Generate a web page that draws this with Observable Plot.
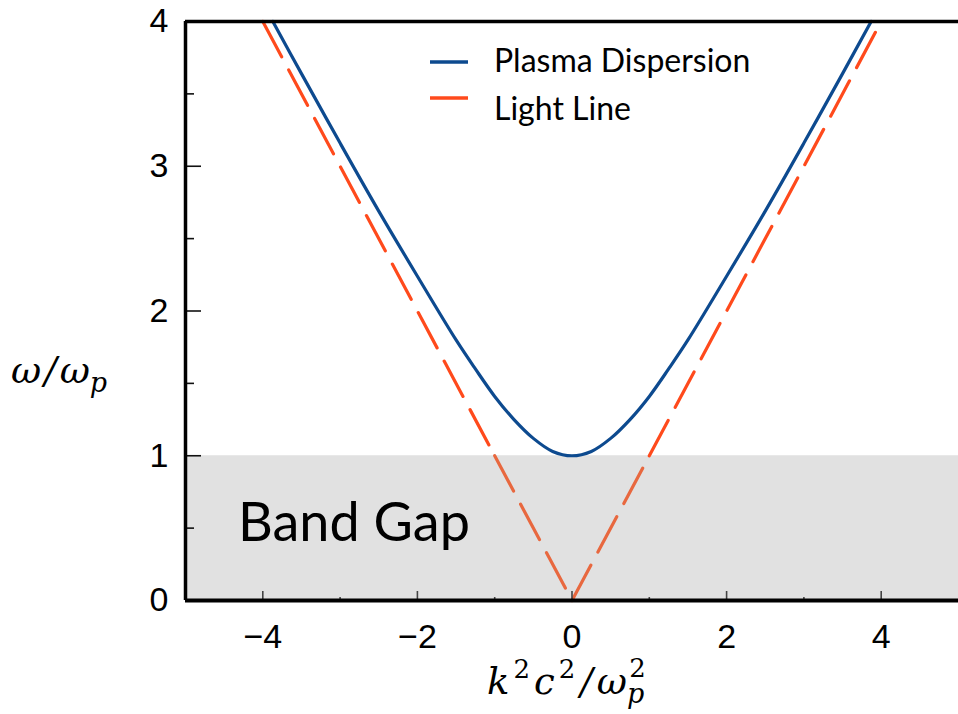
<!DOCTYPE html>
<html><head><meta charset="utf-8">
<script src="https://cdn.jsdelivr.net/npm/d3@7"></script>
<script src="https://cdn.jsdelivr.net/npm/@observablehq/plot@0.6"></script>
<style>body{margin:0;background:#fff} svg{display:block}</style>
</head><body><div id="chart"></div>
<script>
// ---- data ----
const kPlasma = [-3.87,-3.5,-3.0,-2.5,-2.0,-1.5,-1.25,-1.0,-0.75,-0.5,-0.25,0,0.25,0.5,0.75,1.0,1.25,1.5,2.0,2.5,3.0,3.5,3.87];
const wPlasma = [4.0,3.64,3.16,2.69,2.24,1.80,1.60,1.41,1.25,1.12,1.03,1.0,1.03,1.12,1.25,1.41,1.60,1.80,2.24,2.69,3.16,3.64,4.0];
const kLight = [-4,-1,0,1,4];
const wLight = [4,1,0,1,4];
const bandGap = [0,1];           // ω/ωp range of the band gap
const xDomain = [-5,5];
const yDomain = [0,4];
const xTicks = [-4,-2,0,2,4];
const xMinor = [-3,-1,1,3];
const yTicks = [0,1,2,3,4];
const yMinor = [0.5,1.5,2.5,3.5];
const seriesNames = ["Plasma Dispersion","Light Line"];

const BLUE = "#0d4a8f", ORANGE = "#ff4a1c", ORANGE_GAP = "#e8683f", GREY = "#e1e1e1";
const W = 958, H = 714, mL = 185, mR = 0, mT = 21, mB = 114;
const fw = W - mL - mR, fh = H - mT - mB;

const plasma = kPlasma.map((k,i)=>({k, w:wPlasma[i]}));
// light line split into consecutive segments, flagged inside band gap
const lightSegs = [];
for (let i=0;i<kLight.length-1;i++){
  const gap = wLight[i] <= bandGap[1] && wLight[i+1] <= bandGap[1];
  lightSegs.push({k:kLight[i], w:wLight[i], seg:i, gap});
  lightSegs.push({k:kLight[i+1], w:wLight[i+1], seg:i, gap});
}
const dash = "40,15";

const plot = Plot.plot({
  width: W, height: H,
  marginLeft: mL, marginRight: mR, marginTop: mT, marginBottom: mB,
  x: {domain: xDomain},
  y: {domain: yDomain},
  style: {background: "#fff", overflow: "visible"},
  marks: [
    Plot.rect([bandGap], {x1: xDomain[0], x2: xDomain[1], y1: d=>d[0], y2: d=>d[1], fill: GREY}),
    Plot.line(lightSegs.filter(d=>!d.gap), {x:"k", y:"w", z:"seg", stroke: ORANGE, strokeWidth: 3.2, strokeDasharray: dash}),
    Plot.line(lightSegs.filter(d=>d.gap), {x:"k", y:"w", z:"seg", stroke: ORANGE_GAP, strokeWidth: 3.2, strokeDasharray: dash}),
    Plot.line(plasma, {x:"k", y:"w", stroke: BLUE, strokeWidth: 3.2, curve: "catmull-rom"}),
    // inward ticks
    Plot.tickX(xTicks, {insetTop: fh - 9, stroke: "#444", strokeWidth: 1.6}),
    Plot.tickX(xMinor, {insetTop: fh - 3, stroke: "#444", strokeWidth: 1.6}),
    Plot.tickY(yTicks, {insetRight: fw - 16, stroke: "#111", strokeWidth: 1.6}),
    Plot.tickY(yMinor, {insetRight: fw - 9, stroke: "#111", strokeWidth: 1.6}),
    // frame
    Plot.ruleY([yDomain[0]], {stroke: "#000", strokeWidth: 4}),
    Plot.ruleY([yDomain[1]], {stroke: "#000", strokeWidth: 3.5}),
    Plot.ruleX([xDomain[0]], {stroke: "#000", strokeWidth: 3.5}),
    Plot.axisX(xTicks, {tickSize: 0, tickPadding: 23, fontSize: 34, fontFamily: "Liberation Sans", fill: "#000", label: null, tickFormat: d3.format("d")}),
    Plot.axisY(yTicks, {tickSize: 0, tickPadding: 17, fontSize: 34, fontFamily: "Liberation Sans", fill: "#000", label: null, tickFormat: d3.format("d")})
  ]
});
document.getElementById("chart").appendChild(plot);

const svg = d3.select(plot);
// Band Gap label
svg.append("text").attr("x", 238).attr("y", 541).attr("text-anchor", "start")
  .attr("font-family", "Lato").attr("font-size", 54).attr("fill", "#000")
  .text("Band Gap");

// legend
const leg = svg.append("g").attr("font-family", "Lato").attr("font-size", 32).attr("fill", "#000").attr("text-anchor", "start");
[[BLUE, seriesNames[0], 62, 72],[ORANGE, seriesNames[1], 98, 120]].forEach(([c,t,y,ty])=>{
  leg.append("line").attr("x1",430).attr("x2",468).attr("y1",y).attr("y2",y)
    .attr("stroke", c).attr("stroke-width", 3.5);
  leg.append("text").attr("x",494).attr("y",ty).text(t);
});

// y axis label  ω/ωp
const yl = svg.append("text").attr("x", 11).attr("y", 383).attr("text-anchor", "start")
  .attr("font-family", "DejaVu Serif").attr("font-style","italic").attr("font-size", 37).attr("fill","#000");
yl.append("tspan").text("ω");
yl.append("tspan").attr("dx", 3).text("/");
yl.append("tspan").attr("dx", 3).text("ω");
yl.append("tspan").attr("font-size", 27).attr("dy", 9).text("p");

// x axis label  k²c²/ωp²
const xl = svg.append("text").attr("x", 487).attr("y", 694).attr("text-anchor", "start")
  .attr("font-family", "DejaVu Serif").attr("font-style","italic").attr("font-size", 37).attr("fill","#000");
xl.append("tspan").text("k");
xl.append("tspan").attr("font-size", 26).attr("font-style","normal").attr("dx", 4).attr("dy", -16).text("2");
xl.append("tspan").attr("dx", 4).attr("dy", 16).text("c");
xl.append("tspan").attr("font-size", 26).attr("font-style","normal").attr("dx", 4).attr("dy", -16).text("2");
xl.append("tspan").attr("dx", 5).attr("dy", 16).text("/");
xl.append("tspan").attr("dx", 4).text("ω");
xl.append("tspan").attr("font-size", 27).attr("dy", 9).text("p");
xl.append("tspan").attr("font-size", 26).attr("font-style","normal").attr("dx", -15).attr("dy", -26).text("2");
</script></body></html>
